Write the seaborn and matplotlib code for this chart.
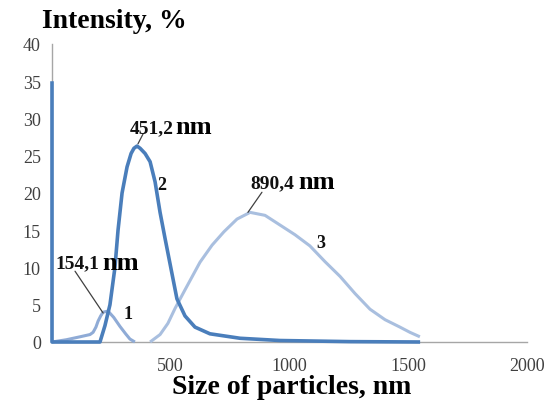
import matplotlib
matplotlib.use("Agg")
import matplotlib.pyplot as plt
import seaborn as sns
import pandas as pd

# ---- data ----
x1 = [0, 60, 118, 160, 173, 185, 194, 205, 215, 236, 260, 286, 310, 328, 349]
y1 = [0, 0.3, 0.7, 1.0, 1.3, 2.0, 2.8, 3.5, 4.0, 4.15, 3.3, 2.1, 1.1, 0.4, 0]

x2 = [0, 0, 100, 202, 223, 244, 265, 278, 295, 316, 333, 345, 358, 371, 392, 413,
      434, 455, 476, 497, 526, 560, 602, 665, 792, 960, 1255, 1550]
y2 = [35, 0, 0, 0, 2.2, 5, 10, 15, 20, 23.5, 25.3, 26.0, 26.3, 26.0, 25.3, 24.2,
      21.5, 17.4, 13.9, 10.5, 5.8, 3.5, 2.0, 1.1, 0.5, 0.2, 0.05, 0]

x3 = [413, 455, 488, 518, 560, 623, 674, 724, 779, 834, 897, 960, 1023, 1086,
      1149, 1213, 1276, 1339, 1402, 1465, 1507, 1549]
y3 = [0, 1.0, 2.5, 4.5, 7, 10.7, 13.0, 14.8, 16.5, 17.4, 17.0, 15.7, 14.4, 12.9,
      10.8, 8.8, 6.5, 4.4, 3.0, 2.0, 1.3, 0.7]

curve_labels = ["1", "2", "3"]
peak_values = ["154,1", "451,2", "890,4"]
x_ticks = [0, 500, 1000, 1500, 2000]
x_tick_labels = ["", "500", "1000", "1500", "2000"]
y_ticks = [0, 5, 10, 15, 20, 25, 30, 35, 40]

sns.set_style("white")
plt.rcParams["font.family"] = ["Liberation Serif", "DejaVu Serif"]

fig = plt.figure(figsize=(5.48, 4.06), dpi=100)
ax = fig.add_axes([52 / 548, 63 / 406, 475 / 548, 298 / 406])

c1 = "#8fabd6"
c2 = "#4a7ebb"
c3 = "#a9bfdf"

df1 = pd.DataFrame({"x": x1, "y": y1})
df2 = pd.DataFrame({"x": x2, "y": y2})
df3 = pd.DataFrame({"x": x3, "y": y3})

for s in ["top", "right"]:
    ax.spines[s].set_visible(False)
for s in ["left", "bottom"]:
    ax.spines[s].set_color("#a6a6a6")
    ax.spines[s].set_linewidth(1.0)
    ax.spines[s].set_zorder(1)

sns.lineplot(data=df3, x="x", y="y", ax=ax, color=c3, lw=2.2, sort=False, estimator=None)
sns.lineplot(data=df1, x="x", y="y", ax=ax, color=c1, lw=2.2, sort=False, estimator=None)
sns.lineplot(data=df2, x="x", y="y", ax=ax, color=c2, lw=2.6, sort=False, estimator=None)
for ln in ax.lines:
    ln.set_solid_joinstyle("round")
    ln.set_solid_capstyle("butt")
    ln.set_clip_on(False)
    ln.set_zorder(3)

ax.set_xlim(0, 2000)
ax.set_ylim(0, 40)
ax.set_xticks(x_ticks)
ax.set_xticklabels(x_tick_labels)
ax.set_yticks(y_ticks)
ax.set_xlabel("")
ax.set_ylabel("")

ax.tick_params(axis="both", direction="out", length=5, width=1, color="#a6a6a6",
               labelsize=13, labelcolor="#404040", pad=3)
ax.tick_params(axis="x", pad=6)

# peak annotations: number x, baseline y, "nm" x, leader target, leader start
ann = [
    (13, 10.0, 211, (215, 3.9), (97, 9.5)),
    (328, 28.2, 520, (362, 26.6), (383, 27.9)),
    (834, 20.8, 1036, (825, 17.4), (884, 20.1)),
]
for (tx, ty, nx, tgt, src), val in zip(ann, peak_values):
    ax.annotate("", xy=tgt, xytext=src,
                arrowprops=dict(arrowstyle="-", color="#404040", lw=0.9,
                                shrinkA=0, shrinkB=0))
    ax.text(tx, ty, val, fontsize=14, fontweight="bold", ha="left", va="baseline",
            color="#111111")
    ax.text(nx, ty - 0.15, "nm", fontsize=19, fontweight="bold", ha="left", va="baseline",
            color="black")

label_pos = [(320, 3.8), (463, 21.2), (1133, 13.3)]
for (lx, ly), lab in zip(label_pos, curve_labels):
    ax.text(lx, ly, lab, fontsize=13, fontweight="bold", ha="center", va="center",
            color="#111111")

fig.text(42 / 548, 1 - 22 / 406, "Intensity, %", fontsize=20, fontweight="bold",
         ha="left", va="center", color="black")
fig.text(172 / 548, 1 - 388 / 406, "Size of particles, nm", fontsize=20, fontweight="bold",
         ha="left", va="center", color="black")

fig.savefig("out.png", dpi=100)
